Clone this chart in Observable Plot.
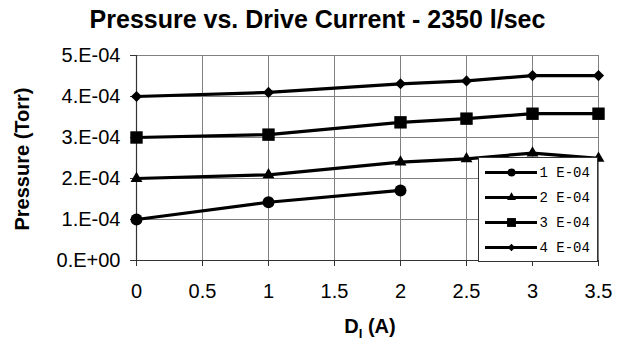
<!DOCTYPE html>
<html>
<head>
<meta charset="utf-8">
<script src="https://cdn.jsdelivr.net/npm/d3@7"></script>
<script src="https://cdn.jsdelivr.net/npm/@observablehq/plot@0.6"></script>
<style>
  body { margin: 0; background: #fff; }
  #wrap { position: relative; width: 623px; height: 344px; overflow: hidden; background: #fff;
          font-family: "Liberation Sans", Arial, sans-serif; }
  #title { position: absolute; top: 4px; left: 0; width: 623px; text-align: center;
           font-weight: bold; font-size: 25px; line-height: 30px; padding-left: 12px; box-sizing: border-box; }
  #chart { position: absolute; top: 36px; left: 0; }
  #ylab { position: absolute; left: 22px; top: 159px; transform: translate(-50%, -50%) rotate(-90deg);
          font-weight: bold; font-size: 20px; white-space: nowrap; }
  #xlab { position: absolute; left: 370px; top: 314px; transform: translateX(-50%);
          font-weight: bold; font-size: 20px; white-space: nowrap; line-height: 24px; }
  #xlab sub { font-size: 13px; vertical-align: -5px; }
  #legend { position: absolute; left: 478px; top: 157px; width: 118px; height: 103px;
            border: 1px solid #333; background: #fff; }
</style>
</head>
<body>
<div id="wrap">
  <div id="title">Pressure vs. Drive Current - 2350 l/sec</div>
  <div id="chart"></div>
  <div id="ylab">Pressure (Torr)</div>
  <div id="xlab">D<sub>I</sub> (A)</div>
  <div id="legend"></div>
</div>
<script>
// ---- data ----
const seriesNames = ["1 E-04", "2 E-04", "3 E-04", "4 E-04"];
const currents = [0, 1, 2, 2.5, 3, 3.5];
const pressure1 = [1.0e-4, 1.42e-4, 1.71e-4];
const pressure2 = [2.0e-4, 2.09e-4, 2.40e-4, 2.48e-4, 2.62e-4, 2.49e-4];
const pressure3 = [3.0e-4, 3.07e-4, 3.37e-4, 3.46e-4, 3.58e-4, 3.58e-4];
const pressure4 = [4.0e-4, 4.10e-4, 4.31e-4, 4.38e-4, 4.51e-4, 4.51e-4];
const xTicks = [0, 0.5, 1, 1.5, 2, 2.5, 3, 3.5];
const yTicks = [0, 1e-4, 2e-4, 3e-4, 4e-4, 5e-4];

const allSeries = [pressure1, pressure2, pressure3, pressure4];
const rows = allSeries.flatMap((vals, i) =>
  vals.map((v, j) => ({series: seriesNames[i], x: currents[j], y: v})));

// marker styles (not data)
const symbols = ["circle", "triangle", "square", "diamond2"];
const mainR = [6, 4.4, 7, 5];
const legR = [4, 3.3, 5, 3.3];

const fmtY = d => d === 0 ? "0.E+00" : `${Math.round(d * 1e4)}.E-04`;

const dotMarks = seriesNames.map((name, i) =>
  Plot.dot(rows.filter(d => d.series === name),
    {x: "x", y: "y", symbol: () => symbols[i], r: mainR[i], fill: "#000", stroke: "none"}));

const chart = Plot.plot({
  width: 623,
  height: 308,
  marginLeft: 136,
  marginRight: 25,
  marginTop: 19,
  marginBottom: 84,
  style: {fontFamily: "'Liberation Sans', Arial, sans-serif", background: "transparent", color: "#000"},
  x: {domain: [0, 3.5]},
  y: {domain: [0, 5e-4]},
  symbol: {type: "identity"},
  marks: [
    Plot.gridX(xTicks, {stroke: "#808080", strokeOpacity: 1, strokeWidth: 1}),
    Plot.gridY(yTicks, {stroke: "#808080", strokeOpacity: 1, strokeWidth: 1}),
    Plot.axisX(xTicks, {tickSize: 6, tickPadding: 17, fontSize: 20, label: null, tickFormat: d => String(d), stroke: "#333"}),
    Plot.axisY(yTicks, {tickSize: 6, tickPadding: 10, fontSize: 20, label: null, tickFormat: fmtY, stroke: "#333"}),
    Plot.ruleX([0], {stroke: "#333", strokeWidth: 1.2}),
    Plot.ruleY([0], {stroke: "#333", strokeWidth: 1.2}),
    Plot.line(rows, {x: "x", y: "y", z: "series", stroke: "#000", strokeWidth: 3.2}),
    ...dotMarks
  ]
});
document.getElementById("chart").appendChild(chart);

// ---- legend (its own small Plot) ----
const legRows = seriesNames.map((name, i) => ({series: name, sym: symbols[i], r: legR[i]}));
const legend = Plot.plot({
  width: 118,
  height: 103,
  marginLeft: 6,
  marginRight: 60,
  marginTop: 13,
  marginBottom: 13,
  style: {fontFamily: "'Liberation Mono', 'Courier New', monospace", background: "transparent", color: "#000"},
  x: {domain: [0, 1], axis: null},
  y: {type: "point", domain: seriesNames, padding: 0, axis: null},
  symbol: {type: "identity"},
  r: {type: "identity"},
  marks: [
    Plot.ruleY(legRows, {y: "series", x1: 0, x2: 1, stroke: "#000", strokeWidth: 3.2}),
    Plot.dot(legRows, {x: 0.5, y: "series", symbol: "sym", r: "r", fill: "#000", stroke: "none"}),
    Plot.text(legRows, {x: 1, y: "series", text: "series", textAnchor: "start", dx: 2, fontSize: 14, fill: "#000"})
  ]
});
document.getElementById("legend").appendChild(legend);
</script>
</body>
</html>
